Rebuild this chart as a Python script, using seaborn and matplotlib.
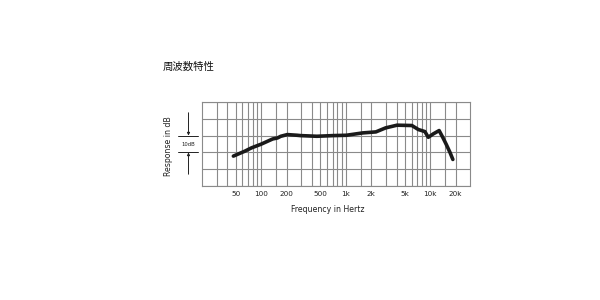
import numpy as np
import pandas as pd
import matplotlib
matplotlib.use("Agg")
import matplotlib.pyplot as plt
from matplotlib.ticker import NullFormatter
import seaborn as sns

# ---- data ----
freq_hz = [47, 64, 77, 100, 137, 156, 171, 204, 267, 292, 456, 711, 1020,
           1590, 2275, 2970, 4050, 6060, 7240, 8630, 9480, 10840, 12730,
           14170, 15480, 17100, 18500]
response_db = [-12.2, -9.3, -7.3, -5.1, -2.0, -1.4, -0.4, 0.6, 0.2, 0.0, -0.4,
               0.0, 0.2, 1.6, 2.2, 4.6, 6.2, 6.0, 3.6, 2.4, -1.0, 1.0, 3.0,
               -1.4, -5.3, -10.0, -14.2]
tick_values = [50, 100, 200, 500, 1000, 2000, 5000, 10000, 20000]
tick_labels = ["50", "100", "200", "500", "1k", "2k", "5k", "10k", "20k"]
minor_grid = [30, 40, 60, 70, 80, 90, 150, 300, 400, 600, 700, 800, 900,
              1500, 3000, 4000, 6000, 7000, 8000, 9000, 15000]
db_lines = [-30, -20, -10, 0, 10, 20]

title_text = "周波数特性"
ylabel_text = "Response in dB"
xlabel_text = "Frequency in Hertz"
bracket_text = "10dB"

df = pd.DataFrame({"freq": freq_hz, "db": response_db})

sns.set_style("white")
plt.rcParams["font.family"] = ["DejaVu Sans", "Noto Sans CJK JP"]

W, H = 600, 300
fig = plt.figure(figsize=(6, 3), dpi=100)
L, R, T, B = 202, 470, 102, 186
ax = fig.add_axes([L / W, 1 - B / H, (R - L) / W, (B - T) / H])

grid_col = "#8a8a8a"
sns.lineplot(data=df, x="freq", y="db", ax=ax, color="#1a1a1a", linewidth=2.6,
             solid_capstyle="round", solid_joinstyle="round", zorder=5)

ax.set_xscale("log")
ax.set_xlim(20, 29500)
ax.set_ylim(-30, 20)

ax.set_xticks(tick_values)
ax.set_xticklabels(tick_labels, fontsize=5.2, color="#222222")
ax.set_xticks(minor_grid, minor=True)
ax.xaxis.set_minor_formatter(NullFormatter())
ax.set_yticks(db_lines)
ax.set_yticklabels([])
ax.tick_params(axis="both", which="both", length=0, pad=3.5)
ax.grid(True, which="major", axis="both", color=grid_col, linewidth=0.8)
ax.grid(True, which="minor", axis="x", color=grid_col, linewidth=0.8)
for s in ax.spines.values():
    s.set_color(grid_col)
    s.set_linewidth(0.8)
ax.set_xlabel("")
ax.set_ylabel("")

# texts
fig.text(163 / W, 1 - 67 / H, title_text, fontsize=7.5, ha="left", va="center",
         family=["Noto Sans CJK JP", "DejaVu Sans"], color="#111111")
fig.text(168 / W, 1 - 146 / H, ylabel_text, fontsize=5.6, rotation=90,
         ha="center", va="center", color="#222222")
fig.text(328 / W, 1 - 209 / H, xlabel_text, fontsize=5.6, ha="center",
         va="center", color="#222222")

# 10 dB bracket
tr = ax.get_yaxis_transform()
x0 = (178 - L) / (R - L)
x1 = (198 - L) / (R - L)
xa = (188.5 - L) / (R - L)
for yv in (0, -10):
    ax.plot([x0, x1], [yv, yv], transform=tr, color="#222222", lw=0.7,
            clip_on=False)
ax.annotate("", xy=(xa, 0), xytext=(xa, 13.6), xycoords=tr, textcoords=tr,
            arrowprops=dict(arrowstyle="-|>", color="#222222", lw=0.7,
                            mutation_scale=4, shrinkA=0, shrinkB=0),
            annotation_clip=False)
ax.annotate("", xy=(xa, -10), xytext=(xa, -23), xycoords=tr, textcoords=tr,
            arrowprops=dict(arrowstyle="-|>", color="#222222", lw=0.7,
                            mutation_scale=4, shrinkA=0, shrinkB=0),
            annotation_clip=False)
ax.text(xa, -5, bracket_text, transform=tr, fontsize=3.8, ha="center",
        va="center", color="#222222", clip_on=False)

fig.savefig("out.png", dpi=100, facecolor="white")
